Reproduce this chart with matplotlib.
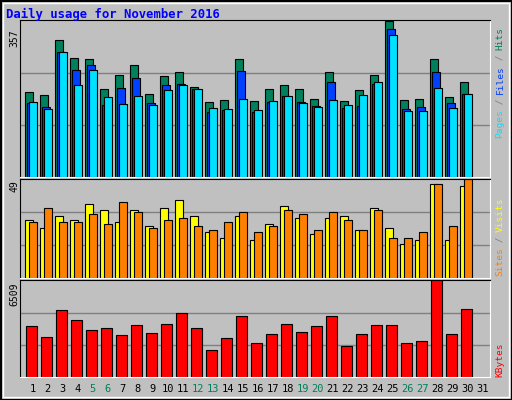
"""Webalizer-style daily usage chart for November 2016."""

import matplotlib
matplotlib.use('Agg')
import matplotlib.pyplot as plt
from matplotlib.patches import Rectangle
import numpy as np

days = list(range(1, 32))
weekend_days = [5, 6, 12, 13, 19, 20, 26, 27]

hits = [194, 187, 313, 272, 269, 201, 233, 255, 189, 230, 240, 206, 172, 177, 269,
        174, 201, 211, 201, 179, 240, 174, 199, 233, 357, 177, 179, 269, 182, 216]
files = [170, 160, 286, 245, 255, 165, 204, 226, 170, 211, 213, 201, 148, 153, 243,
         148, 172, 184, 172, 162, 216, 157, 162, 213, 338, 155, 160, 240, 170, 189]
pages = [172, 155, 286, 211, 245, 182, 167, 184, 165, 199, 211, 201, 157, 155, 179,
         153, 174, 184, 170, 160, 177, 165, 187, 216, 325, 150, 150, 204, 157, 189]
visits = [29, 25, 31, 29, 37, 34, 28, 34, 26, 35, 39, 31, 23, 20, 31,
          19, 27, 36, 30, 22, 30, 31, 24, 35, 25, 17, 19, 47, 19, 46]
sites = [28, 35, 28, 28, 32, 27, 38, 33, 25, 29, 30, 26, 24, 28, 33,
         23, 26, 34, 32, 24, 33, 29, 24, 34, 20, 20, 23, 47, 26, 49]
kbytes = [3421, 2709, 4514, 3873, 3160, 3279, 2851, 3493, 2994, 3564, 4348, 3279, 1853, 2637, 4134,
          2281, 2922, 3564, 3065, 3421, 4134, 2067, 2922, 3493, 3493, 2281, 2424, 6509, 2922, 4562]

COLORS = {
    "bg": "#c0c0c0",
    "hits": "#00805c",
    "files": "#0040ff",
    "pages": "#00e0ff",
    "sites": "#ff8000",
    "visits": "#ffff00",
    "kbytes": "#ff0000",
    "grid": "#808080",
    "title": "#0000ff",
    "weekend": "#00805c",
}
MONO = "DejaVu Sans Mono"
W, H = 512, 400

fig = plt.figure(figsize=(W / 100, H / 100), dpi=100, facecolor=COLORS["bg"])


def px_axes(x0, y0, x1, y1):
    """Axes from pixel box (top-left origin)."""
    return fig.add_axes([x0 / W, 1 - y1 / H, (x1 - x0) / W, (y1 - y0) / H])


def style_panel(ax, ymax):
    ax.set_facecolor(COLORS["bg"])
    ax.set_xlim(0.17, 31.5)
    ax.set_ylim(0, ymax * 1.005)
    for frac in (1 / 3, 2 / 3):
        ax.axhline(ymax * frac, color=COLORS["grid"], lw=1, zorder=0)
    ax.set_xticks([])
    ax.set_yticks([])
    for s in ("top", "left"):
        ax.spines[s].set_color("black")
    for s in ("bottom", "right"):
        ax.spines[s].set_color("white")


x = np.array(days[:len(hits)], dtype=float)
bar_kw = dict(edgecolor="black", linewidth=0.8, align="edge")

# top panel: hits / files / pages
ax1 = px_axes(20, 20, 490, 177)
style_panel(ax1, 357)
ax1.bar(x - 0.5, hits, 0.53, color=COLORS["hits"], **bar_kw)
ax1.bar(x - 0.37, files, 0.53, color=COLORS["files"], **bar_kw)
ax1.bar(x - 0.23, pages, 0.53, color=COLORS["pages"], **bar_kw)

# middle panel: visits (yellow) / sites (orange)
ax2 = px_axes(20, 179, 490, 278)
style_panel(ax2, 49)
ax2.bar(x - 0.5, visits, 0.55, color=COLORS["visits"], **bar_kw)
ax2.bar(x - 0.23, sites, 0.51, color=COLORS["sites"], **bar_kw)

# bottom panel: kbytes
ax3 = px_axes(20, 280, 490, 377)
style_panel(ax3, 6509)
ax3.bar(x - 0.43, kbytes, 0.71, color=COLORS["kbytes"], **bar_kw)


def ftext(px, py, s, **kw):
    fig.text(px / W, 1 - py / H, s, family=MONO, **kw)


# title and max labels
ftext(6, 14, "Daily usage for November 2016", color=COLORS["title"],
      fontsize=8.8, fontweight="bold", va="center", ha="left")
for label, ytop in (("357", 29), ("49", 180), ("6509", 282)):
    ftext(14, ytop, label, rotation=90, fontsize=7, va="top", ha="center")


def right_label(ytop, parts, step=5.5):
    """Rotated multi-colour label, first part at bottom."""
    text = "".join(p for p, _ in parts)
    y = ytop + step * len(text)
    for part, color in parts:
        ftext(500, y, part, rotation=90, fontsize=6.8, color=color,
              va="bottom", ha="center")
        y -= step * len(part)


right_label(28, [("Pages", COLORS["pages"]), (" / ", "#808080"),
                 ("Files", COLORS["files"]), (" / ", "#808080"),
                 ("Hits", COLORS["hits"])])
right_label(198, [("Sites", COLORS["sites"]), (" / ", "#808080"),
                  ("Visits", COLORS["visits"])], step=5.6)
right_label(341, [("KBytes", COLORS["kbytes"])], step=6)

# day labels
for d in days:
    color = COLORS["weekend"] if d in weekend_days else "black"
    ftext(15 * d + 17.5, 389, str(d), color=color, fontsize=7.5,
          ha="center", va="center")

# bevelled outer frame
fig.patches.append(Rectangle((0.5 / W, 0.5 / H), 1 - 1 / W, 1 - 1 / H, fill=False,
                             edgecolor="black", lw=1.5, transform=fig.transFigure))
fig.patches.append(Rectangle((3 / W, 3 / H), 1 - 6 / W, 1 - 6 / H, fill=False,
                             edgecolor="white", lw=1, transform=fig.transFigure))

fig.savefig("out.png", dpi=100, facecolor=COLORS["bg"])
